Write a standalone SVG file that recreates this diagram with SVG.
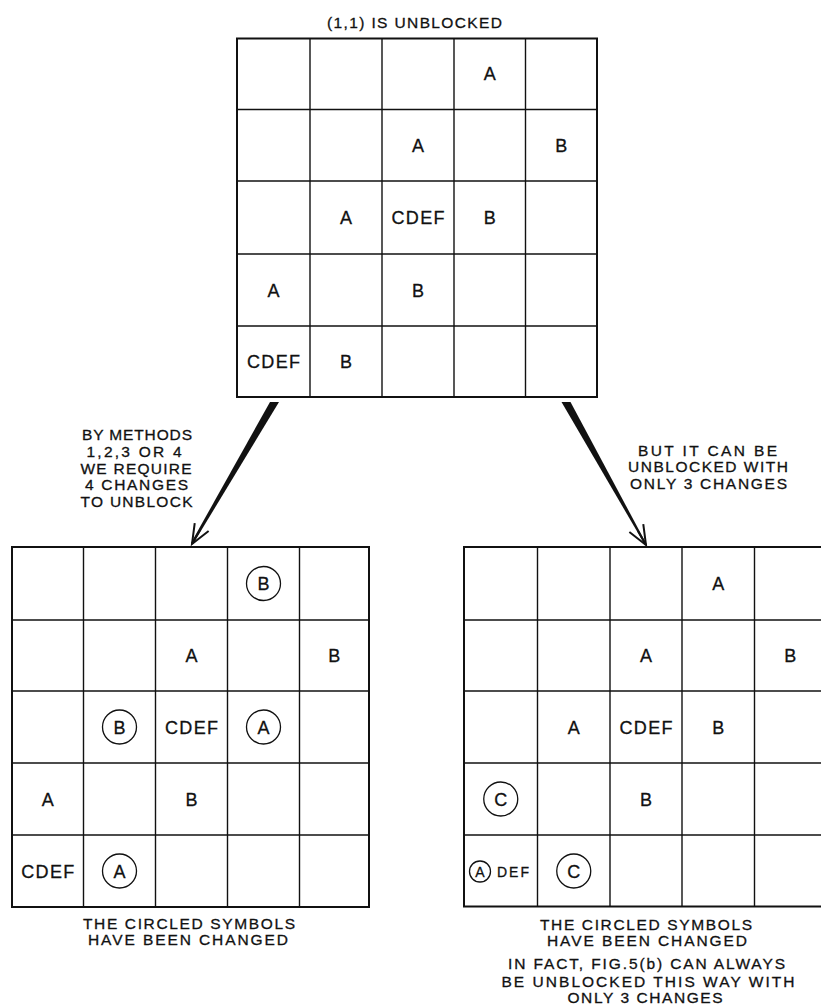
<svg xmlns="http://www.w3.org/2000/svg" width="821" height="1006" viewBox="0 0 821 1006">
<style>
  text { font-family: "Liberation Sans", Arial, sans-serif; fill: #111; stroke: #111; stroke-width: 0.3; }
  .cell { font-size: 18px; text-anchor: middle; }
  .small { font-size: 14px; }
  .lbl { font-size: 15.5px; text-anchor: middle; }
  .outer { fill: none; stroke: #111; stroke-width: 2; }
  .gl { stroke: #111; stroke-width: 1.4; }
  .ring { fill: none; stroke: #111; stroke-width: 1.3; }
  .shaft { fill: #111; stroke: none; }
  .guide { fill: none; stroke: #111; stroke-width: 2; }
</style>
<defs>
  <marker id="head" markerUnits="userSpaceOnUse" viewBox="-22 -10 24 20" refX="0" refY="0" markerWidth="24" markerHeight="20" orient="auto" overflow="visible">
    <path d="M -19.5 -8 L 0 0 L -19.5 8" fill="none" stroke="#111" stroke-width="2" stroke-linejoin="miter"/>
  </marker>
</defs>
<rect width="821" height="1006" fill="#fff"/>

<g id="title">
  <text class="lbl" x="414.5" y="27.5" textLength="175" lengthAdjust="spacing">(1,1) IS UNBLOCKED</text>
</g>

<g id="grid-top">
  <rect class="outer" x="237" y="38.5" width="360" height="358.5"/>
  <line class="gl" x1="310" y1="38.5" x2="310" y2="397"/>
  <line class="gl" x1="382" y1="38.5" x2="382" y2="397"/>
  <line class="gl" x1="454" y1="38.5" x2="454" y2="397"/>
  <line class="gl" x1="525.5" y1="38.5" x2="525.5" y2="397"/>
  <line class="gl" x1="237" y1="109.5" x2="597" y2="109.5"/>
  <line class="gl" x1="237" y1="181" x2="597" y2="181"/>
  <line class="gl" x1="237" y1="254" x2="597" y2="254"/>
  <line class="gl" x1="237" y1="326" x2="597" y2="326"/>
  <text class="cell" x="489.75" y="79.7">A</text>
  <text class="cell" x="418" y="151.8">A</text>
  <text class="cell" x="561.25" y="151.8">B</text>
  <text class="cell" x="346" y="224">A</text>
  <text class="cell" x="418" y="224" textLength="53" lengthAdjust="spacing">CDEF</text>
  <text class="cell" x="489.75" y="224">B</text>
  <text class="cell" x="273.5" y="296.5">A</text>
  <text class="cell" x="418" y="296.5">B</text>
  <text class="cell" x="273.5" y="368" textLength="53" lengthAdjust="spacing">CDEF</text>
  <text class="cell" x="346" y="368">B</text>
</g>

<g id="label-left">
  <text class="lbl" x="137" y="440" textLength="110" lengthAdjust="spacing">BY METHODS</text>
  <text class="lbl" x="134" y="457" textLength="95" lengthAdjust="spacing">1,2,3 OR 4</text>
  <text class="lbl" x="136" y="474" textLength="111" lengthAdjust="spacing">WE REQUIRE</text>
  <text class="lbl" x="136.5" y="490" textLength="103" lengthAdjust="spacing">4 CHANGES</text>
  <text class="lbl" x="136.5" y="507" textLength="112" lengthAdjust="spacing">TO UNBLOCK</text>
</g>

<g id="label-right">
  <text class="lbl" x="707.5" y="456" textLength="139" lengthAdjust="spacing">BUT IT CAN BE</text>
  <text class="lbl" x="708" y="472" textLength="160" lengthAdjust="spacing">UNBLOCKED WITH</text>
  <text class="lbl" x="708.5" y="489" textLength="157" lengthAdjust="spacing">ONLY 3 CHANGES</text>
</g>

<g id="connectors">
  <polygon class="shaft" points="270,402 279,402 193,544 191,543"/>
  <path class="guide" d="M 200 530 L 192 544" marker-end="url(#head)"/>
  <polygon class="shaft" points="561.5,402 570.5,402 647,545 645,545"/>
  <path class="guide" d="M 638 531 L 646 545" marker-end="url(#head)"/>
</g>

<g id="grid-left">
  <rect class="outer" x="12" y="547" width="357" height="360"/>
  <line class="gl" x1="83.5" y1="547" x2="83.5" y2="907"/>
  <line class="gl" x1="155.5" y1="547" x2="155.5" y2="907"/>
  <line class="gl" x1="227.5" y1="547" x2="227.5" y2="907"/>
  <line class="gl" x1="299.5" y1="547" x2="299.5" y2="907"/>
  <line class="gl" x1="12" y1="620" x2="369" y2="620"/>
  <line class="gl" x1="12" y1="691" x2="369" y2="691"/>
  <line class="gl" x1="12" y1="763" x2="369" y2="763"/>
  <line class="gl" x1="12" y1="835" x2="369" y2="835"/>
  <circle class="ring" cx="263.5" cy="583.5" r="17"/>
  <text class="cell" x="263.5" y="590">B</text>
  <text class="cell" x="191.5" y="662">A</text>
  <text class="cell" x="334.25" y="662">B</text>
  <circle class="ring" cx="119.5" cy="727" r="17"/>
  <text class="cell" x="119.5" y="733.5">B</text>
  <text class="cell" x="191.5" y="733.5" textLength="53" lengthAdjust="spacing">CDEF</text>
  <circle class="ring" cx="263.5" cy="727" r="17"/>
  <text class="cell" x="263.5" y="733.5">A</text>
  <text class="cell" x="47.75" y="805.5">A</text>
  <text class="cell" x="191.5" y="805.5">B</text>
  <text class="cell" x="47.75" y="877.5" textLength="53" lengthAdjust="spacing">CDEF</text>
  <circle class="ring" cx="119.5" cy="871" r="17"/>
  <text class="cell" x="119.5" y="877.5">A</text>
</g>

<g id="grid-right">
  <rect class="outer" x="464" y="547" width="362" height="359.5"/>
  <line class="gl" x1="537.5" y1="547" x2="537.5" y2="906.5"/>
  <line class="gl" x1="610" y1="547" x2="610" y2="906.5"/>
  <line class="gl" x1="682" y1="547" x2="682" y2="906.5"/>
  <line class="gl" x1="754.5" y1="547" x2="754.5" y2="906.5"/>
  <line class="gl" x1="464" y1="620" x2="826" y2="620"/>
  <line class="gl" x1="464" y1="691" x2="826" y2="691"/>
  <line class="gl" x1="464" y1="763" x2="826" y2="763"/>
  <line class="gl" x1="464" y1="835" x2="826" y2="835"/>
  <text class="cell" x="718.25" y="590">A</text>
  <text class="cell" x="646" y="662">A</text>
  <text class="cell" x="790.25" y="662">B</text>
  <text class="cell" x="573.75" y="733.5">A</text>
  <text class="cell" x="646" y="733.5" textLength="53" lengthAdjust="spacing">CDEF</text>
  <text class="cell" x="718.25" y="733.5">B</text>
  <circle class="ring" cx="500.75" cy="799" r="17"/>
  <text class="cell" x="500.75" y="805.5">C</text>
  <text class="cell" x="646" y="805.5">B</text>
  <circle class="ring" cx="480" cy="871.5" r="10.5"/>
  <text class="small" x="480" y="876.5" text-anchor="middle">A</text>
  <text class="small" x="497" y="877" textLength="32" lengthAdjust="spacing">DEF</text>
  <circle class="ring" cx="573.75" cy="871" r="17"/>
  <text class="cell" x="573.75" y="877.5">C</text>
</g>

<g id="caption-left">
  <text class="lbl" x="189" y="929" textLength="212" lengthAdjust="spacing">THE CIRCLED SYMBOLS</text>
  <text class="lbl" x="188" y="945" textLength="200" lengthAdjust="spacing">HAVE BEEN CHANGED</text>
</g>

<g id="caption-right">
  <text class="lbl" x="646" y="930" textLength="212" lengthAdjust="spacing">THE CIRCLED SYMBOLS</text>
  <text class="lbl" x="647" y="946" textLength="200" lengthAdjust="spacing">HAVE BEEN CHANGED</text>
  <text class="lbl" x="646.5" y="969" textLength="277" lengthAdjust="spacing">IN FACT, FIG.5(b) CAN ALWAYS</text>
  <text class="lbl" x="648" y="987" textLength="293" lengthAdjust="spacing">BE UNBLOCKED THIS WAY WITH</text>
  <text class="lbl" x="645" y="1003" textLength="155" lengthAdjust="spacing">ONLY 3 CHANGES</text>
</g>
</svg>
